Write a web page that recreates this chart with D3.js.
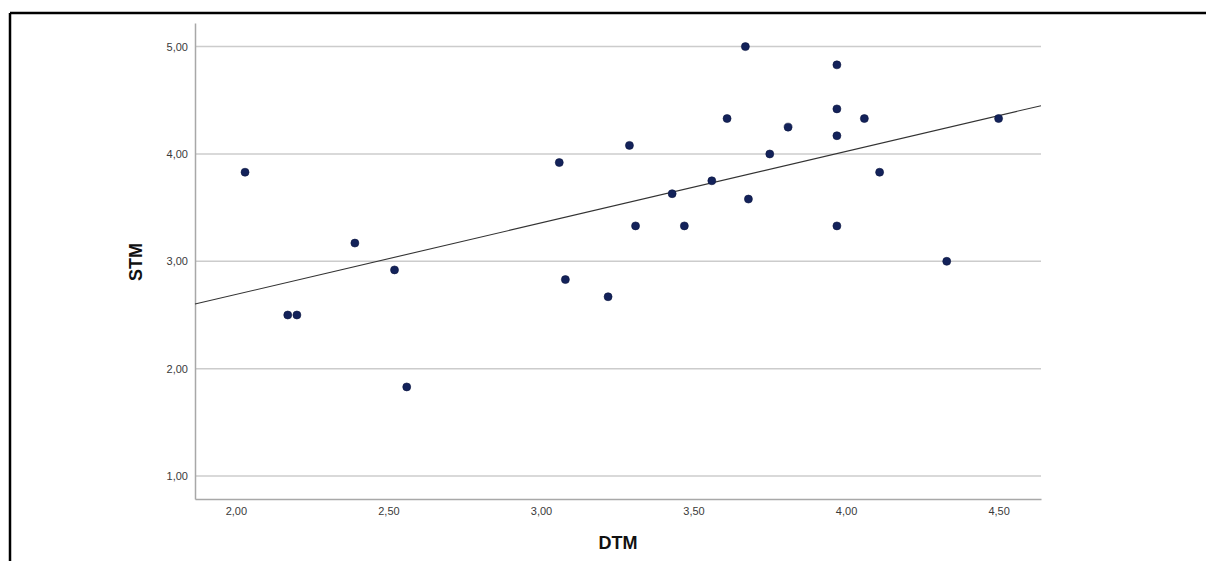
<!DOCTYPE html>
<html>
<head>
<meta charset="utf-8">
<script src="https://cdn.jsdelivr.net/npm/d3@7"></script>
<style>
  body { margin: 0; background: #fff; }
  svg { display: block; }
</style>
</head>
<body>
<script>
// data (DTM on x, STM on y)
var dtm = [2.03, 2.17, 2.20, 2.39, 2.52, 2.56, 3.06, 3.08, 3.22, 3.29, 3.31, 3.43, 3.47, 3.56,
           3.61, 3.67, 3.68, 3.75, 3.81, 3.97, 3.97, 3.97, 3.97, 4.06, 4.11, 4.33, 4.50];
var stm = [3.83, 2.50, 2.50, 3.17, 2.92, 1.83, 3.92, 2.83, 2.67, 4.08, 3.33, 3.63, 3.33, 3.75,
           4.33, 5.00, 3.58, 4.00, 4.25, 4.83, 4.42, 4.17, 3.33, 4.33, 3.83, 3.00, 4.33];
var xTicks = [2.0, 2.5, 3.0, 3.5, 4.0, 4.5];
var yTicks = [1, 2, 3, 4, 5];
// fit line
var fitIntercept = 1.358;
var fitSlope = 0.6665;

var W = 1206, H = 561;
var plotLeft = 195, plotRight = 1041, plotTop = 23, plotBottom = 499;

var svg = d3.select('body').append('svg')
  .attr('width', W)
  .attr('height', H);

var x = d3.scaleLinear().domain([1.866, 4.639]).range([plotLeft, plotRight]);
var y = d3.scaleLinear().domain([0.786, 5.22]).range([plotBottom, plotTop]);

var fmt = function(d) { return d3.format('.2f')(d).replace('.', ','); };

// frame (only top and left show)
svg.append('line').attr('x1', 10).attr('x2', W).attr('y1', 13).attr('y2', 13)
  .attr('stroke', '#000').attr('stroke-width', 2.5);
svg.append('line').attr('x1', 10).attr('x2', 10).attr('y1', 13).attr('y2', H)
  .attr('stroke', '#000').attr('stroke-width', 2.5);

// gridlines
svg.append('g')
  .selectAll('line')
  .data(yTicks)
  .enter()
  .append('line')
    .attr('x1', plotLeft)
    .attr('x2', plotRight)
    .attr('y1', function(d) { return y(d); })
    .attr('y2', function(d) { return y(d); })
    .attr('stroke', '#cccccc')
    .attr('stroke-width', 1.5);

// axes
var yAxis = svg.append('g')
  .attr('transform', 'translate(' + plotLeft + ',0)')
  .call(d3.axisLeft(y).tickValues(yTicks).tickFormat(fmt).tickSize(0).tickPadding(7));
var xAxis = svg.append('g')
  .attr('transform', 'translate(0,' + plotBottom + ')')
  .call(d3.axisBottom(x).tickValues(xTicks).tickFormat(fmt).tickSize(0).tickPadding(8));

[yAxis, xAxis].forEach(function(g) {
  g.select('.domain').attr('stroke', '#a8a8a8').attr('stroke-width', 1.5);
  g.selectAll('text')
    .attr('font-family', 'Liberation Sans, Arial, sans-serif')
    .attr('font-size', 11)
    .attr('fill', '#3a3a3a');
});

// regression line
svg.append('line')
  .attr('x1', x(1.866))
  .attr('y1', y(fitIntercept + fitSlope * 1.866))
  .attr('x2', x(4.639))
  .attr('y2', y(fitIntercept + fitSlope * 4.639))
  .attr('stroke', '#333')
  .attr('stroke-width', 1.1);

// points
svg.append('g')
  .selectAll('circle')
  .data(dtm)
  .enter()
  .append('circle')
    .attr('cx', function(d) { return x(d); })
    .attr('cy', function(d, i) { return y(stm[i]); })
    .attr('r', 4)
    .attr('fill', '#13225a')
    .attr('stroke', '#0b1640')
    .attr('stroke-width', 0.6);

// axis titles
svg.append('text')
  .attr('x', 618)
  .attr('y', 549)
  .attr('text-anchor', 'middle')
  .attr('font-family', 'Liberation Sans, Arial, sans-serif')
  .attr('font-weight', 'bold')
  .attr('font-size', 18)
  .attr('fill', '#111')
  .text('DTM');

svg.append('text')
  .attr('transform', 'translate(142,262) rotate(-90)')
  .attr('text-anchor', 'middle')
  .attr('font-family', 'Liberation Sans, Arial, sans-serif')
  .attr('font-weight', 'bold')
  .attr('font-size', 18)
  .attr('fill', '#111')
  .text('STM');
</script>
</body>
</html>
